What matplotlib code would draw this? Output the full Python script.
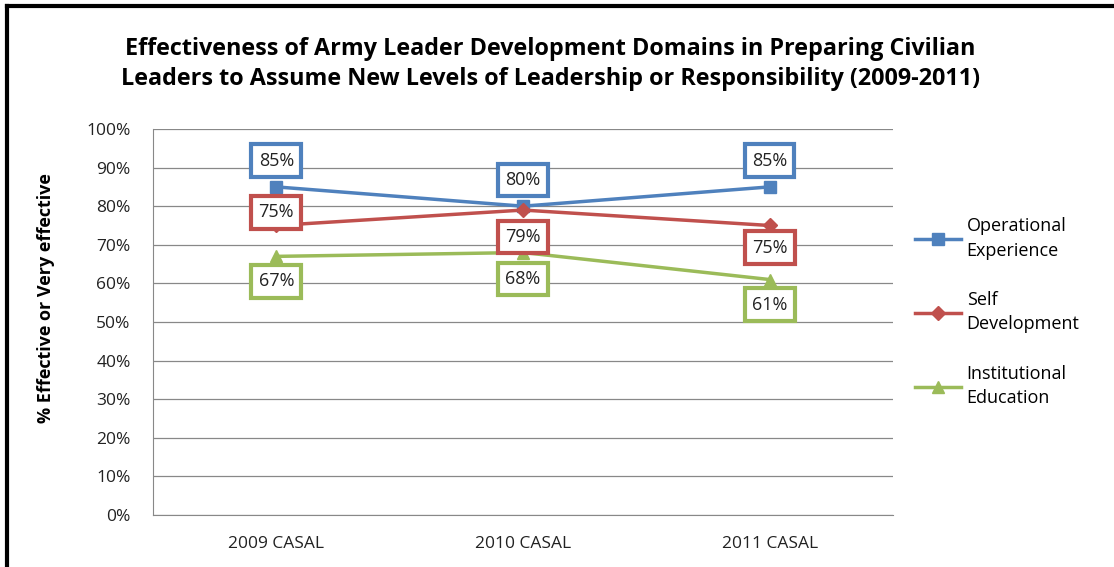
import matplotlib
matplotlib.use("Agg")
import matplotlib.pyplot as plt
from matplotlib.lines import Line2D
from matplotlib.ticker import PercentFormatter

plt.rcParams['font.family'] = ['Open Sans', 'DejaVu Sans']

# data
surveys = ["2009 CASAL", "2010 CASAL", "2011 CASAL"]
operational = [85, 80, 85]
self_dev = [75, 79, 75]
institutional = [67, 68, 61]
series_names = ["Operational\nExperience", "Self\nDevelopment", "Institutional\nEducation"]

colors = ["#4F81BD", "#C0504D", "#9BBB59"]
markers = ["s", "D", "^"]
msizes = [8, 7, 9]
# label offsets (points) for each value: above or below the marker
offsets = [
    [19, 19, 19],
    [9.5, -19.5, -16],
    [-18, -19, -18],
]

fig = plt.figure(figsize=(11.14, 5.67), dpi=100)
ax = fig.add_axes([0.1373, 0.0917, 0.6643, 0.6808])

x = range(len(surveys))
for vals, name, c, m, ms, offs in zip([operational, self_dev, institutional],
                                      series_names, colors, markers, msizes, offsets):
    ax.plot(x, vals, color=c, lw=2.5, marker=m, ms=ms, label=name, zorder=3)
    for xi, v, off in zip(x, vals, offs):
        ax.annotate(f"{v}%", (xi, v), xytext=(0, off), textcoords="offset points",
                    ha="center", va="center", fontsize=13, color="#222222",
                    bbox=dict(boxstyle="square,pad=0.4", fc="white", ec=c, lw=3),
                    zorder=5)

ax.set_xlim(-0.5, 2.5)
ax.set_ylim(0, 100)
ax.set_yticks(range(0, 101, 10))
ax.yaxis.set_major_formatter(PercentFormatter(decimals=0))
ax.set_xticks(list(x))
ax.set_xticklabels(surveys)
ax.tick_params(axis="both", length=0, labelsize=12.5, colors="#222222")
ax.tick_params(axis="y", pad=16)
ax.tick_params(axis="x", pad=15)
ax.grid(axis="y", color="#888888", lw=0.9)
ax.set_axisbelow(True)
for s in ["top", "right"]:
    ax.spines[s].set_visible(False)
for s in ["left", "bottom"]:
    ax.spines[s].set_color("#888888")

ax.set_ylabel("% Effective or Very effective", fontsize=13, fontweight="bold")
ax.yaxis.set_label_coords(-0.133, 0.562)

fig.text(0.494, 0.913, "Effectiveness of Army Leader Development Domains in Preparing Civilian",
         ha="center", va="center", fontsize=16.8, fontweight="bold")
fig.text(0.494, 0.86, "Leaders to Assume New Levels of Leadership or Responsibility (2009-2011)",
         ha="center", va="center", fontsize=16.8, fontweight="bold")

leg = ax.legend(loc="center left", bbox_to_anchor=(1.008, 0.525), frameon=False,
                fontsize=13, handlelength=2.55, labelspacing=1.75, handletextpad=0.3)
for t in leg.get_texts():
    t.set_linespacing(1.45)

# black frame (top and left edges visible)
fig.add_artist(Line2D([0.0063, 1.0], [0.9894, 0.9894], color="black", lw=3))
fig.add_artist(Line2D([0.0063, 0.0063], [0.0, 0.9894], color="black", lw=3))

fig.savefig("out.png", dpi=100)
